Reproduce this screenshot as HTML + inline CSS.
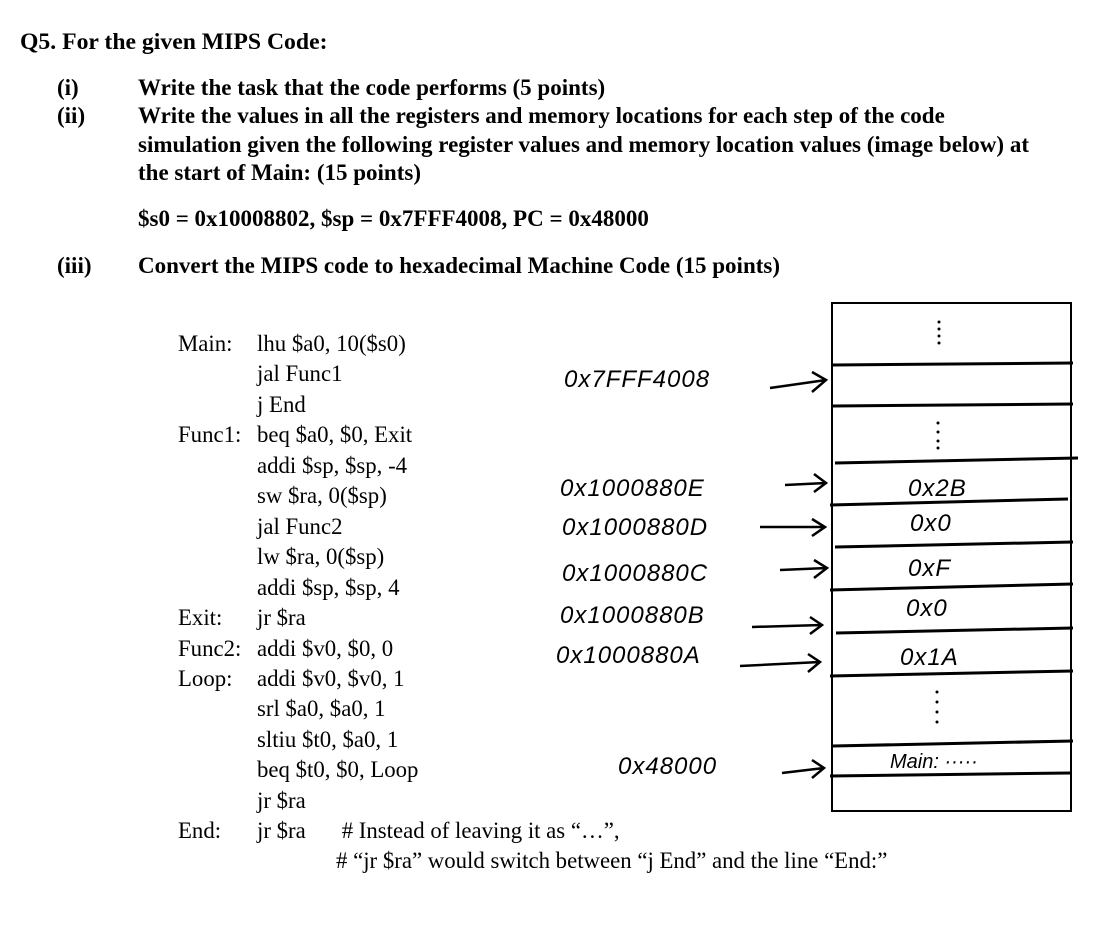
<!DOCTYPE html>
<html><head><meta charset="utf-8"><style>
body{margin:0;width:1120px;height:928px;background:#fff;position:relative;overflow:hidden;font-family:"Liberation Serif",serif;color:#000}
.t{position:absolute;white-space:nowrap;line-height:20px}
.b{font-weight:bold;font-size:23px}
.c{font-size:22.8px;line-height:30.45px}
.h{position:absolute;white-space:nowrap;font-family:"Liberation Sans",sans-serif;font-size:24px;line-height:26px;font-style:italic;letter-spacing:1px}
</style></head><body>
<div class="t b" style="left:20px;top:32px;font-size:23.7px">Q5. For the given MIPS Code:</div>
<div class="t b" style="left:57px;top:78px">(i)</div>
<div class="t b" style="left:57px;top:106px">(ii)</div>
<div class="t b" style="left:57px;top:256px">(iii)</div>
<div class="t b" style="left:138px;top:78px">Write the task that the code performs (5 points)</div>
<div class="t b" style="left:138px;top:106px">Write the values in all the registers and memory locations for each step of the code</div>
<div class="t b" style="left:138px;top:135px">simulation given the following register values and memory location values (image below) at</div>
<div class="t b" style="left:138px;top:163px">the start of Main: (15 points)</div>
<div class="t b" style="left:138px;top:209px">$s0 = 0x10008802, $sp = 0x7FFF4008, PC = 0x48000</div>
<div class="t b" style="left:138px;top:256px">Convert the MIPS code to hexadecimal Machine Code (15 points)</div>

<div class="t c" style="left:178px;top:329px">Main:<br><br><br>Func1:<br><br><br><br><br><br>Exit:<br>Func2:<br>Loop:<br><br><br><br><br>End:</div>
<div class="t c" style="left:257px;top:329px">lhu $a0, 10($s0)<br>jal Func1<br>j End<br>beq $a0, $0, Exit<br>addi $sp, $sp, -4<br>sw $ra, 0($sp)<br>jal Func2<br>lw $ra, 0($sp)<br>addi $sp, $sp, 4<br>jr $ra<br>addi $v0, $0, 0<br>addi $v0, $v0, 1<br>srl $a0, $a0, 1<br>sltiu $t0, $a0, 1<br>beq $t0, $0, Loop<br>jr $ra<br>jr $ra</div>
<div class="t c" style="left:336px;top:816px">&nbsp;# Instead of leaving it as “…”,<br># “jr $ra” would switch between “j End” and the line “End:”</div>

<svg style="position:absolute;left:0;top:0" width="1120" height="928">
<rect x="832" y="303" width="239" height="508" fill="none" stroke="#000" stroke-width="2"/>
<g stroke="#000" stroke-width="3" fill="none">
<line x1="833" y1="365" x2="1073" y2="363"/>
<line x1="833" y1="406" x2="1073" y2="404"/>
<line x1="835" y1="463" x2="1078" y2="458"/>
<line x1="830" y1="505" x2="1068" y2="499"/>
<line x1="835" y1="547" x2="1073" y2="542"/>
<line x1="830" y1="590" x2="1073" y2="584"/>
<line x1="836" y1="633" x2="1073" y2="628"/>
<line x1="830" y1="676" x2="1073" y2="671"/>
<line x1="833" y1="746" x2="1073" y2="741"/>
<line x1="830" y1="776" x2="1070" y2="773"/>
</g>
<g stroke="#000" stroke-width="2.5" fill="none">
<path d="M770 388 L826 380 M812 372 L826 380 L812 392"/>
<path d="M785 485 L826 483 M814 474 L826 483 L814 492"/>
<path d="M760 527 L825 527 M812 519 L825 527 L812 536"/>
<path d="M780 570 L827 568 M814 560 L827 568 L814 578"/>
<path d="M752 627 L822 625 M810 617 L822 625 L810 634"/>
<path d="M740 666 L820 662 M808 654 L820 662 L808 672"/>
<path d="M782 773 L824 768 M812 760 L824 768 L812 778"/>
</g>
<g fill="#000">
<circle cx="939" cy="322" r="1.5"/><circle cx="939" cy="329" r="1.5"/><circle cx="939" cy="336" r="1.5"/><circle cx="939" cy="343" r="1.5"/>
<circle cx="938" cy="423" r="1.5"/><circle cx="938" cy="432" r="1.5"/><circle cx="938" cy="441" r="1.5"/><circle cx="938" cy="448" r="1.5"/>
<circle cx="937" cy="692" r="1.5"/><circle cx="937" cy="702" r="1.5"/><circle cx="937" cy="712" r="1.5"/><circle cx="937" cy="722" r="1.5"/>
</g>
</svg>
<div class="h" style="left:564px;top:367px">0x7FFF4008</div>
<div class="h" style="left:560px;top:476px">0x1000880E</div>
<div class="h" style="left:562px;top:515px">0x1000880D</div>
<div class="h" style="left:562px;top:561px">0x1000880C</div>
<div class="h" style="left:560px;top:603px">0x1000880B</div>
<div class="h" style="left:556px;top:643px">0x1000880A</div>
<div class="h" style="left:618px;top:754px">0x48000</div>
<div class="h" style="left:908px;top:476px">0x2B</div>
<div class="h" style="left:910px;top:511px">0x0</div>
<div class="h" style="left:908px;top:556px">0xF</div>
<div class="h" style="left:906px;top:596px">0x0</div>
<div class="h" style="left:900px;top:645px">0x1A</div>
<div class="h" style="left:890px;top:749px;font-size:20px;letter-spacing:0">Main: ·····</div>
</body></html>
